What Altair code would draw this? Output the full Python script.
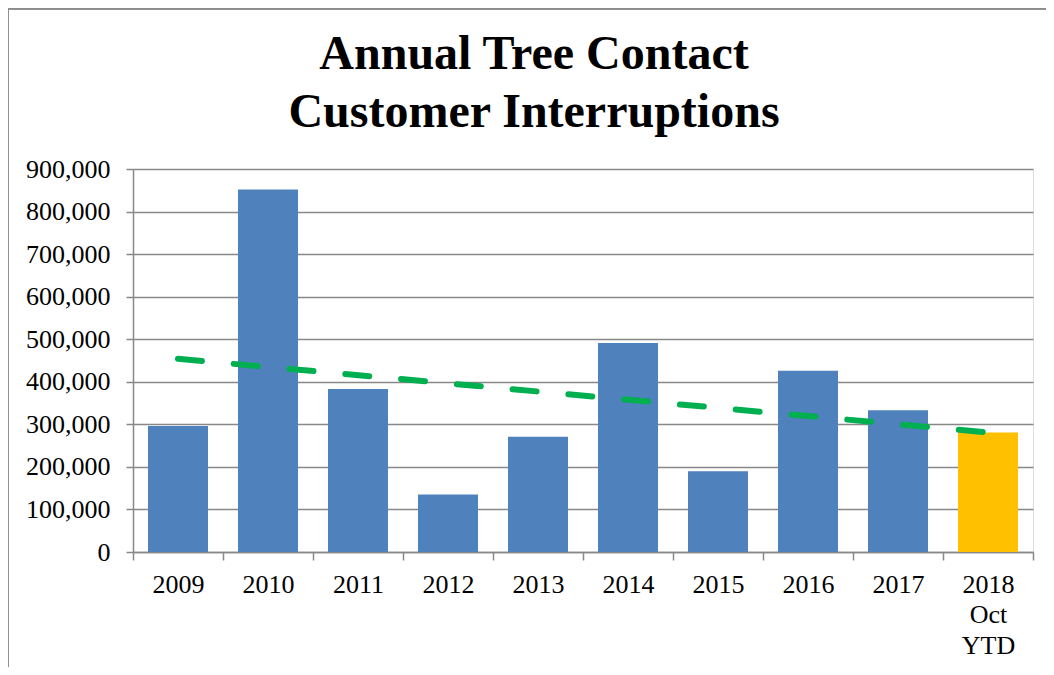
import altair as alt
import pandas as pd

# ---- data ----
years = ["2009", "2010", "2011", "2012", "2013", "2014", "2015", "2016", "2017", "2018 Oct YTD"]
interruptions = [296000, 852000, 383000, 135000, 271000, 491000, 190000, 426000, 333000, 281000]
trend_years = ["2009", "2018 Oct YTD"]
trend_values = [454000, 281000]
y_ticks = [0, 100000, 200000, 300000, 400000, 500000, 600000, 700000, 800000, 900000]

bars_df = pd.DataFrame({"year": years, "value": interruptions})
trend_df = pd.DataFrame({"year": trend_years, "value": trend_values})

FONT = "Liberation Serif"
GRID = "#888888"
W, H = 900, 383

x_enc = alt.X(
    "year:N", sort=years, title=None,
    scale=alt.Scale(domain=years, paddingInner=0, paddingOuter=0),
    axis=alt.Axis(
        labelAngle=0, labelFont=FONT, labelFontSize=26, labelColor="black",
        labelExpr="split(datum.label, ' ')", labelLineHeight=30.5,
        tickBand="extent", tickSize=8, tickColor=GRID, tickWidth=1.5,
        domainColor=GRID, domainWidth=1.5, labelPadding=11, grid=False,
    ),
)
y_axis = alt.Axis(
    values=y_ticks, format=",.0f", labelFont=FONT, labelFontSize=26, labelColor="black",
    tickSize=7, tickColor=GRID, tickWidth=1.5, labelPadding=16,
    domainColor=GRID, domainWidth=1.5,
    grid=True, gridColor=GRID, gridWidth=1.5,
)
y_enc = alt.Y("value:Q", title=None, scale=alt.Scale(domain=[0, 900000], nice=False), axis=y_axis)

bars = alt.Chart(bars_df).mark_bar(width={"band": 2 / 3}).encode(
    x=x_enc,
    y=y_enc,
    color=alt.condition(alt.datum.year == "2018 Oct YTD", alt.value("#FFC000"), alt.value("#4F81BD")),
)

trend = alt.Chart(trend_df).mark_line(
    color="#00B050", strokeWidth=6, strokeDash=[24, 32], strokeCap="round"
).encode(x=alt.X("year:N", sort=years), y=alt.Y("value:Q", axis=y_axis))

# outer frame (left and top edges, as visible in the reference)
frame_top = alt.Chart(bars_df).mark_rule(color="#8c8c8c", strokeWidth=1.5).encode(
    x=alt.value(-125), x2=alt.value(W + 13), y=alt.value(-160.5)
)
frame_left = alt.Chart(bars_df).mark_rule(color="#8c8c8c", strokeWidth=1.5).encode(
    x=alt.value(-125.5), y=alt.value(-161), y2=alt.value(H + 115)
)

chart = alt.layer(bars, trend, frame_top, frame_left).properties(
    width=W, height=H,
    title=alt.TitleParams(
        text=["Annual Tree Contact", "Customer Interruptions"],
        font=FONT, fontSize=48, fontWeight="bold", color="black",
        anchor="middle", frame="group", dx=-49, dy=201, offset=23,
        baseline="bottom", lineHeight=58,
    ),
    autosize=alt.AutoSizeParams(type="none"),
    padding={"left": 125, "top": 161, "right": 13, "bottom": 115},
).configure_view(stroke=None).configure(background="white")

chart.save("out.html", embed_options={"renderer": "svg", "actions": False})
